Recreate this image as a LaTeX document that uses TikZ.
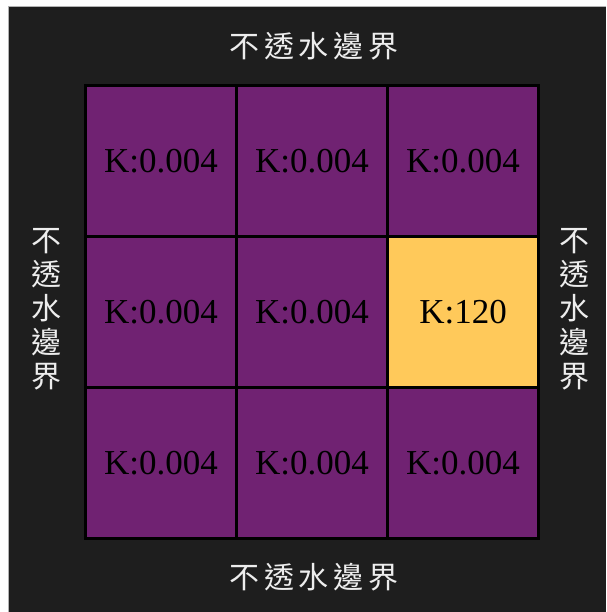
\documentclass[tikz,border=0pt]{standalone}
\usepackage{fontspec}
\setmainfont{Liberation Serif}
\newfontfamily\cjk{Noto Sans CJK TC}
\newfontfamily\cjkwide[LetterSpace=16]{Noto Sans CJK TC}
\definecolor{bgdark}{HTML}{1E1E1E}
\definecolor{kpurple}{HTML}{702272}
\definecolor{kyellow}{HTML}{FFC95A}
\definecolor{labelgray}{HTML}{EDEDED}
\tikzset{
  cell/.style={draw=black, line width=2.6pt, fill=kpurple, minimum size=151.3pt, inner sep=0pt, anchor=center, font=\fontsize{35}{40}\selectfont, text=black},
  hot/.style={cell, fill=kyellow},
  hlabel/.style={text=labelgray, font=\cjkwide\fontsize{30}{34}\selectfont, inner sep=0pt},
  vlabel/.style={text=labelgray, font=\cjk\fontsize{30}{34}\selectfont, align=center, inner sep=0pt}
}
\begin{document}
\begin{tikzpicture}[x=1pt,y=-1pt]
\useasboundingbox (0,0) rectangle (606,612);
\fill[white] (0,0) rectangle (606,612);
\fill[bgdark] (8,7) rectangle (606,612);
\draw[gray!60, line width=1pt] (8,612) -- (8,7) -- (606,7);
% grid cells
\node[cell] (c11) at (161,161) {K:0.004};
\node[cell] (c12) at (312,161) {K:0.004};
\node[cell] (c13) at (463,161) {K:0.004};
\node[cell] (c21) at (161,312) {K:0.004};
\node[cell] (c22) at (312,312) {K:0.004};
\node[hot]  (c23) at (463,312) {K:120};
\node[cell] (c31) at (161,463) {K:0.004};
\node[cell] (c32) at (312,463) {K:0.004};
\node[cell] (c33) at (463,463) {K:0.004};
% boundary labels
\node[hlabel] (top) at (314,46) {不透水邊界};
\node[hlabel] (bottom) at (314,577) {不透水邊界};
\node[vlabel] (left) at (46,309) {不\\透\\水\\邊\\界};
\node[vlabel] (right) at (574,309) {不\\透\\水\\邊\\界};
\end{tikzpicture}
\end{document}
